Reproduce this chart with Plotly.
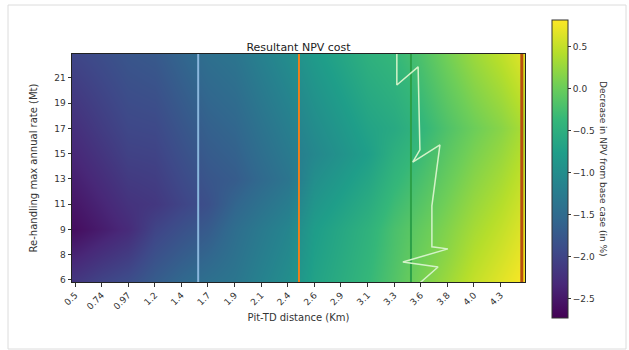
import plotly.graph_objects as go

# Pit-TD distance (km) for each grid column; last column sits at the right edge
distance_km = [0.5, 0.74, 0.97, 1.2, 1.4, 1.7, 1.9, 2.1, 2.4, 2.6, 2.9, 3.1, 3.3, 3.6, 3.8, 4.0, 4.3, 4.5]
# Re-handling max annual rate (Mt) for each grid row, bottom to top
rate_mt = [6, 8, 9, 11, 13, 15, 17, 19, 21, 22.5]

x_tick_labels = ["0.5", "0.74", "0.97", "1.2", "1.4", "1.7", "1.9", "2.1", "2.4",
                 "2.6", "2.9", "3.1", "3.3", "3.6", "3.8", "4.0", "4.3"]
y_tick_labels = ["6", "8", "9", "11", "13", "15", "17", "19", "21"]

# Decrease in NPV from base case (%), rows follow rate_mt, columns follow distance_km
npv_decrease = [
    [-2.16, -2.01, -1.90, -1.70, -1.55, -1.43, -1.34, -1.16, -0.99, -0.70, -0.54, -0.37, -0.16, 0.08, 0.28, 0.50, 0.66, 0.82],
    [-2.38, -2.23, -2.10, -1.85, -1.70, -1.57, -1.40, -1.22, -1.05, -0.74, -0.58, -0.41, -0.19, 0.02, 0.20, 0.42, 0.58, 0.75],
    [-2.60, -2.45, -2.30, -2.00, -1.85, -1.71, -1.46, -1.28, -1.11, -0.78, -0.62, -0.45, -0.22, -0.04, 0.14, 0.34, 0.50, 0.68],
    [-2.51, -2.36, -2.21, -2.15, -2.00, -1.85, -1.58, -1.40, -1.23, -0.88, -0.72, -0.55, -0.31, -0.13, 0.06, 0.26, 0.42, 0.61],
    [-2.42, -2.27, -2.12, -2.08, -1.93, -1.78, -1.70, -1.52, -1.35, -0.98, -0.82, -0.65, -0.40, -0.22, -0.02, 0.18, 0.34, 0.54],
    [-2.33, -2.18, -2.03, -2.01, -1.86, -1.71, -1.63, -1.45, -1.28, -1.08, -0.92, -0.75, -0.49, -0.31, -0.10, 0.10, 0.26, 0.47],
    [-2.24, -2.09, -1.96, -1.94, -1.79, -1.64, -1.56, -1.38, -1.21, -1.01, -0.85, -0.68, -0.58, -0.40, -0.18, 0.02, 0.18, 0.40],
    [-2.15, -2.02, -1.90, -1.87, -1.72, -1.57, -1.49, -1.31, -1.14, -0.94, -0.78, -0.61, -0.51, -0.33, -0.10, 0.11, 0.28, 0.50],
    [-2.06, -1.95, -1.84, -1.80, -1.65, -1.50, -1.42, -1.24, -1.07, -0.87, -0.71, -0.54, -0.44, -0.26, -0.02, 0.20, 0.38, 0.60],
    [-1.97, -1.88, -1.78, -1.73, -1.58, -1.43, -1.35, -1.17, -1.00, -0.80, -0.64, -0.47, -0.37, -0.19, 0.06, 0.29, 0.48, 0.70],
]

# Reference distances marked with vertical lines (km) and their colours
marker_km = [1.6, 2.5, 3.5, 4.49]
marker_colors = ["#8ab6dc", "#f07f1a", "#2ca048", "#b8500f"]
marker_widths = [2, 2, 2, 3]

# Break-even boundary (km, Mt)
boundary_km = [3.374, 3.374, 3.374, 3.564, 3.58, 3.58, 3.516, 3.759, 3.687, 3.687, 3.83, 3.428, 3.742, 3.58]
boundary_mt = [22.78, 21.9, 20.48, 21.83, 17.2, 15.66, 14.76, 16.03, 11.5, 8.46, 8.31, 7.33, 6.96, 5.78]

KM0, KM_STEP = 0.5, 0.2375
MT0, MT_STEP = 6.0, 1.875


def col_pos(km):
    return (km - KM0) / KM_STEP


def row_pos(mt):
    return (mt - MT0) / MT_STEP


x_pos = list(range(len(distance_km)))
y_pos = list(range(len(rate_mt)))
x_range = [-0.113, 16.92]
y_range = [-0.08, 8.95]

FONT = "DejaVu Sans"
fig = go.Figure()

fig.add_trace(go.Heatmap(
    x=x_pos, y=y_pos, z=npv_decrease,
    colorscale="Viridis", zmin=-2.73, zmax=0.82, zsmooth="best",
    colorbar=dict(
        x=1.06, xanchor="left", xpad=0,
        y=0.4956, yanchor="middle", ypad=0,
        len=298, lenmode="pixels", thickness=16,
        outlinecolor="#333", outlinewidth=1,
        tickmode="array", tickvals=[0.5, 0.0, -0.5, -1.0, -1.5, -2.0, -2.5],
        ticktext=["0.5", "0.0", "\u22120.5", "\u22121.0", "\u22121.5", "\u22122.0", "\u22122.5"],
        ticks="outside", ticklen=3, tickcolor="#333",
        tickfont=dict(family=FONT, size=9, color="#333"),
    ),
    hoverinfo="skip",
))

for km, c, w in zip(marker_km, marker_colors, marker_widths):
    p = col_pos(km)
    fig.add_trace(go.Scatter(x=[p, p], y=y_range, mode="lines",
                             line=dict(color=c, width=w), showlegend=False, hoverinfo="skip"))

fig.add_trace(go.Scatter(
    x=[col_pos(v) for v in boundary_km], y=[row_pos(v) for v in boundary_mt],
    mode="lines", line=dict(color="#d4f2c8", width=1.5), showlegend=False, hoverinfo="skip"))

axis_common = dict(showline=True, mirror=True, linecolor="#222", linewidth=1,
                   ticks="outside", ticklen=3.5, tickcolor="#333", showgrid=False, zeroline=False,
                   tickfont=dict(family=FONT, size=9, color="#333"))

fig.update_layout(
    width=629, height=350,
    margin=dict(l=72, r=104, t=54, b=68),
    paper_bgcolor="white", plot_bgcolor="white",
    showlegend=False,
    title=dict(text="Resultant NPV cost", x=0.5, xref="paper", xanchor="center",
               y=1, yref="paper", yanchor="bottom", pad=dict(b=3),
               font=dict(family=FONT, size=11, color="#222")),
    xaxis=dict(axis_common, range=x_range, tickmode="array",
               tickvals=list(range(len(x_tick_labels))), ticktext=x_tick_labels, tickangle=-45,
               title=dict(text="Pit-TD distance (Km)", standoff=3,
                          font=dict(family=FONT, size=10, color="#333"))),
    yaxis=dict(axis_common, range=y_range, tickmode="array",
               tickvals=list(range(len(y_tick_labels))), ticktext=y_tick_labels,
               title=dict(text="Re-handling max annual rate (Mt)", standoff=14,
                          font=dict(family=FONT, size=10, color="#333"))),
    annotations=[dict(text="Decrease in NPV from base case (in %)", textangle=90,
                      xref="paper", yref="paper", x=(603 - 72) / 453, y=0.4956,
                      xanchor="center", yanchor="middle",
                      showarrow=False, font=dict(family=FONT, size=9, color="#333"))],
    shapes=[dict(type="rect", xref="paper", yref="paper",
                 x0=(8 - 72) / 453, x1=(626 - 72) / 453, y0=(282 - 349) / 228, y1=(282 - 5) / 228,
                 line=dict(color="#dcdcdc", width=1), layer="below")],
)

fig.write_html("out.html")
